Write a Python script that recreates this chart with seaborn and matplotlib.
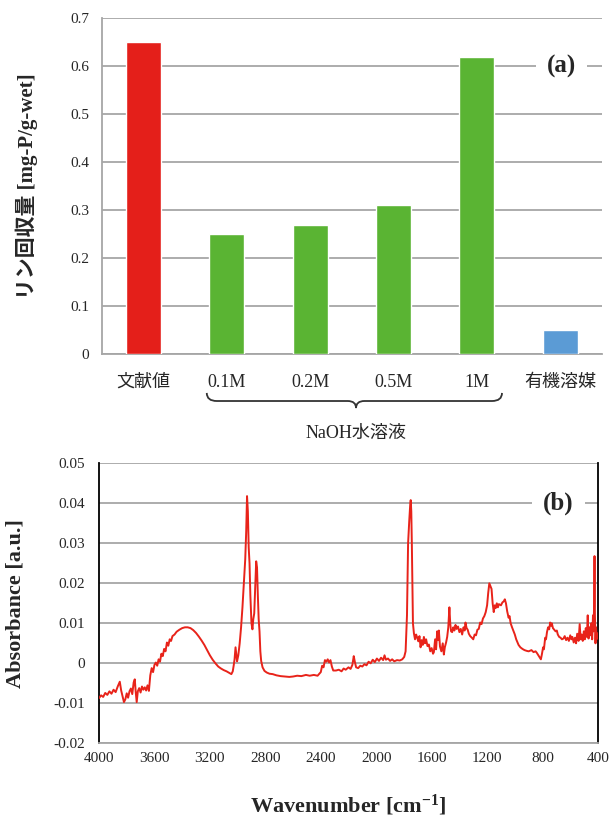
#!/usr/bin/env python3
# -*- coding: utf-8 -*-
"""
(a) リン回収量 / (b) FT-IR スペクトル
"""

#%% modulos
import matplotlib
matplotlib.use("Agg")
import matplotlib.pyplot as plt
from matplotlib.path import Path
from matplotlib.patches import PathPatch
from matplotlib.transforms import blended_transform_factory
import numpy as np
import pandas as pd
import seaborn as sb

#%% dados (a)
categorias = ["文献値", "0.1M", "0.2M", "0.5M", "1M", "有機溶媒"]
recuperacao = [0.65, 0.25, 0.27, 0.31, 0.62, 0.05]
cores = ["#E41F1A", "#5AB433", "#5AB433", "#5AB433", "#5AB433", "#5B9BD5"]
yticks_a = [0, 0.1, 0.2, 0.3, 0.4, 0.5, 0.6, 0.7]
ytlabels_a = ["0", "0.1", "0.2", "0.3", "0.4", "0.5", "0.6", "0.7"]

#%% dados (b) - lidos do espectro
wn = [4000, 3985, 3970, 3955, 3940, 3925, 3910, 3895, 3880, 3865,
      3850, 3840, 3830, 3820, 3810, 3800, 3790, 3780, 3770, 3760,
      3750, 3742, 3735, 3728, 3720, 3710, 3700, 3690, 3680, 3670,
      3660, 3650, 3640, 3630, 3620, 3610, 3600, 3590, 3580, 3570,
      3560, 3550, 3540, 3530, 3520, 3510, 3500, 3490, 3480, 3470,
      3455, 3440, 3420, 3400, 3380, 3360, 3340, 3320, 3300, 3280,
      3260, 3240, 3220, 3200, 3180, 3160, 3140, 3120, 3100, 3080,
      3060, 3045, 3035, 3028, 3022, 3015, 3010, 3004, 2995, 2985,
      2975, 2965, 2955, 2945, 2938, 2932, 2926, 2920, 2914, 2908,
      2900, 2893, 2887, 2880, 2872, 2866, 2860, 2854, 2848, 2842,
      2836, 2830, 2820, 2806, 2790, 2770, 2747, 2720, 2690, 2660,
      2627, 2600, 2570, 2540, 2507, 2480, 2450, 2423, 2400, 2390,
      2380, 2370, 2360, 2350, 2340, 2330, 2320, 2310, 2290, 2270,
      2250, 2235, 2220, 2200, 2185, 2172, 2162, 2155, 2145, 2130,
      2115, 2100, 2085, 2070, 2055, 2040, 2025, 2010, 1995, 1980,
      1965, 1950, 1940, 1930, 1915, 1900, 1885, 1870, 1850, 1830,
      1812, 1798, 1788, 1778, 1770, 1762, 1755, 1751, 1747, 1743,
      1739, 1735, 1728, 1720, 1712, 1704, 1696, 1688, 1680, 1672,
      1664, 1656, 1648, 1640, 1630, 1620, 1610, 1600, 1590, 1584,
      1575, 1568, 1560, 1552, 1548, 1540, 1530, 1520, 1512, 1505,
      1496, 1488, 1480, 1472, 1466, 1460, 1452, 1444, 1436, 1428,
      1420, 1410, 1400, 1390, 1380, 1370, 1362, 1356, 1348, 1340,
      1332, 1322, 1310, 1300, 1290, 1280, 1270, 1260, 1250, 1240,
      1230, 1220, 1210, 1200, 1192, 1184, 1176, 1168, 1160, 1152,
      1145, 1138, 1130, 1122, 1115, 1100, 1090, 1080, 1072, 1064,
      1055, 1045, 1038, 1030, 1020, 1009, 1000, 990, 980, 973,
      960, 945, 930, 913, 900, 880, 865, 850, 841, 830,
      820, 812, 805, 796, 790, 781, 775, 768, 760, 752,
      745, 738, 733, 725, 715, 706, 697, 690, 680, 670,
      660, 649, 640, 630, 620, 610, 600, 592, 585, 575,
      566, 558, 550, 540, 532, 525, 518, 510, 502, 495,
      488, 480, 474, 468, 462, 455, 448, 442, 436, 432,
      428, 425, 422, 418, 414, 410, 405, 400]
absorb = [-0.0087, -0.0080, -0.0084, -0.0074, -0.0079, -0.0070, -0.0076, -0.0066, -0.0072, -0.0058,
          -0.0046, -0.0068, -0.0082, -0.0097, -0.0090, -0.0075, -0.0086, -0.0070, -0.0063, -0.0077,
          -0.0048, -0.0040, -0.0072, -0.0097, -0.0070, -0.0062, -0.0073, -0.0058, -0.0066, -0.0060,
          -0.0068, -0.0055, -0.0069, -0.0030, -0.0012, -0.0022, -0.0004, 0.0002, -0.0006, 0.0010,
          0.0004, 0.0024, 0.0018, 0.0036, 0.0030, 0.0052, 0.0044, 0.0060, 0.0056, 0.0068,
          0.0072, 0.0079, 0.0084, 0.0088, 0.0090, 0.0090, 0.0088, 0.0083, 0.0076, 0.0067,
          0.0057, 0.0046, 0.0033, 0.0020, 0.0009, 0.0000, -0.0008, -0.0013, -0.0017, -0.0020,
          -0.0024, -0.0027, -0.0020, -0.0005, 0.0010, 0.0040, 0.0025, 0.0005, 0.0020, 0.0050,
          0.0090, 0.0140, 0.0200, 0.0260, 0.0330, 0.0418, 0.0380, 0.0290, 0.0250, 0.0170,
          0.0100, 0.0085, 0.0110, 0.0125, 0.0200, 0.0255, 0.0240, 0.0170, 0.0110, 0.0080,
          0.0030, 0.0006, -0.0010, -0.0019, -0.0023, -0.0026, -0.0027, -0.0030, -0.0032, -0.0033,
          -0.0034, -0.0033, -0.0031, -0.0032, -0.0029, -0.0031, -0.0029, -0.0031, -0.0022, -0.0006,
          -0.0010, 0.0008, 0.0004, 0.0010, 0.0002, 0.0008, -0.0008, -0.0018, -0.0018, -0.0016,
          -0.0020, -0.0013, -0.0016, -0.0010, -0.0014, -0.0004, 0.0018, 0.0005, -0.0010, -0.0012,
          -0.0006, -0.0008, -0.0002, -0.0005, 0.0004, 0.0000, 0.0009, 0.0003, 0.0012, 0.0006,
          0.0014, 0.0008, 0.0020, 0.0009, 0.0012, 0.0006, 0.0010, 0.0005, 0.0008, 0.0007,
          0.0010, 0.0016, 0.0030, 0.0120, 0.0300, 0.0354, 0.0395, 0.0408, 0.0380, 0.0300,
          0.0200, 0.0100, 0.0075, 0.0060, 0.0072, 0.0064, 0.0055, 0.0068, 0.0040, 0.0058,
          0.0046, 0.0066, 0.0050, 0.0060, 0.0043, 0.0047, 0.0030, 0.0038, 0.0024, 0.0028,
          0.0060, 0.0035, 0.0080, 0.0058, 0.0082, 0.0042, 0.0030, 0.0050, 0.0022, 0.0040,
          0.0052, 0.0066, 0.0090, 0.0140, 0.0100, 0.0080, 0.0078, 0.0090, 0.0082, 0.0096,
          0.0086, 0.0092, 0.0078, 0.0086, 0.0072, 0.0090, 0.0082, 0.0102, 0.0088, 0.0084,
          0.0074, 0.0068, 0.0064, 0.0060, 0.0072, 0.0070, 0.0084, 0.0086, 0.0102, 0.0098,
          0.0112, 0.0118, 0.0128, 0.0145, 0.0176, 0.0200, 0.0193, 0.0186, 0.0150, 0.0128,
          0.0145, 0.0138, 0.0150, 0.0140, 0.0148, 0.0145, 0.0152, 0.0155, 0.0160, 0.0150,
          0.0130, 0.0114, 0.0118, 0.0100, 0.0090, 0.0080, 0.0072, 0.0060, 0.0052, 0.0046,
          0.0040, 0.0036, 0.0033, 0.0031, 0.0030, 0.0033, 0.0028, 0.0030, 0.0026, 0.0020,
          0.0015, 0.0010, 0.0022, 0.0040, 0.0035, 0.0064, 0.0060, 0.0078, 0.0090, 0.0085,
          0.0102, 0.0094, 0.0100, 0.0088, 0.0084, 0.0080, 0.0082, 0.0072, 0.0066, 0.0064,
          0.0060, 0.0062, 0.0068, 0.0058, 0.0064, 0.0056, 0.0070, 0.0060, 0.0066, 0.0052,
          0.0064, 0.0050, 0.0074, 0.0056, 0.0098, 0.0060, 0.0072, 0.0056, 0.0080, 0.0060,
          0.0088, 0.0066, 0.0120, 0.0062, 0.0090, 0.0070, 0.0100, 0.0060, 0.0120, 0.0080,
          0.0145, 0.0268, 0.0120, 0.0050, 0.0090, 0.0060, 0.0075, 0.0070]
xticks_b = [4000, 3600, 3200, 2800, 2400, 2000, 1600, 1200, 800, 400]
yticks_b = [-0.02, -0.01, 0, 0.01, 0.02, 0.03, 0.04, 0.05]
ytlabels_b = ["-0.02", "-0.01", "0", "0.01", "0.02", "0.03", "0.04", "0.05"]

df_a = pd.DataFrame({"cat": categorias, "val": recuperacao})
df_b = pd.DataFrame({"wn": wn, "abs": absorb})

#%% estilo
sb.set_style("white")
plt.rcParams['font.family'] = ['Liberation Serif', 'Noto Sans CJK JP']
plt.rcParams['mathtext.default'] = 'regular'
grade = "#a6a6a6"

fig = plt.figure(figsize=(6.1, 8.19), dpi=100)
ax1 = fig.add_axes([0.1667, 0.5674, 0.8203, 0.4103])
ax2 = fig.add_axes([0.1623, 0.0924, 0.8180, 0.3419])

#%% (a) barras
sb.barplot(data=df_a, x="cat", y="val", hue="cat", palette=cores,
           width=0.42, legend=False, saturation=1, ax=ax1, zorder=3)
ax1.set_xlim(-0.5, 5.5)
ax1.set_ylim(0, 0.7)
ax1.set_yticks(yticks_a)
ax1.set_yticklabels(ytlabels_a, fontsize=11)
ax1.yaxis.grid(True, color=grade, lw=1.3)
ax1.set_axisbelow(True)
ax1.set_xticks(range(len(categorias)))
ax1.set_xticklabels(categorias, fontsize=13)
ax1.set_xticks(np.arange(-0.5, 6, 1.0), minor=True)
ax1.tick_params(axis='x', which='major', length=0, pad=14)
ax1.tick_params(axis='x', which='minor', length=4, direction='in', color=grade)
ax1.tick_params(axis='y', length=0, pad=9)
for s in ["top", "right"]:
    ax1.spines[s].set_visible(False)
for s in ["left", "bottom"]:
    ax1.spines[s].set_color(grade)
    ax1.spines[s].set_linewidth(1.3)
ax1.set_xlabel("")
ax1.set_ylabel("リン回収量 [mg-P/g-wet]", fontsize=15, fontweight='bold')
ax1.yaxis.set_label_coords(-0.128, 0.5)
ax1.text(0.919, 0.6, "(a)", transform=blended_transform_factory(ax1.transAxes, ax1.transData),
         fontsize=18, fontweight='bold', ha='center', va='center',
         bbox=dict(boxstyle='square,pad=0.45', fc='white', ec='none'), zorder=5)

# chave sob as concentracoes de NaOH
tr = blended_transform_factory(ax1.transData, ax1.transAxes)
x0, x1, xm = 0.76, 4.3, 2.55
yt, yh, yb = -0.115, -0.139, -0.160
verts = [(x0, yt), (x0, yh), (x0 + 0.12, yh), (xm - 0.1, yh), (xm, yh), (xm, yb),
         (xm, yh), (xm + 0.1, yh), (x1 - 0.12, yh), (x1, yh), (x1, yt)]
codes = [Path.MOVETO, Path.CURVE3, Path.CURVE3, Path.LINETO, Path.CURVE3, Path.CURVE3,
         Path.CURVE3, Path.CURVE3, Path.LINETO, Path.CURVE3, Path.CURVE3]
ax1.add_patch(PathPatch(Path(verts, codes), transform=tr, fill=False,
                        lw=1.3, ec="#333333", clip_on=False))
ax1.text(xm, -0.234, "NaOH水溶液", transform=tr, fontsize=13,
         ha='center', va='center')

#%% (b) espectro
sb.lineplot(data=df_b, x="wn", y="abs", color="#E8231A", lw=1.4,
            estimator=None, sort=False, ax=ax2, zorder=3)
ax2.set_xlim(4000, 400)
ax2.set_ylim(-0.02, 0.05)
ax2.set_xticks(xticks_b)
ax2.set_xticklabels([str(t) for t in xticks_b], fontsize=11)
ax2.set_yticks(yticks_b)
ax2.set_yticklabels(ytlabels_b, fontsize=11)
ax2.yaxis.grid(True, color=grade, lw=1.3)
ax2.set_axisbelow(True)
ax2.tick_params(axis='x', length=5, direction='in', pad=6)
ax2.tick_params(axis='y', length=5, direction='in', pad=10)
ax2.spines["top"].set_visible(False)
for s in ["left", "right", "bottom"]:
    ax2.spines[s].set_color("black")
    ax2.spines[s].set_linewidth(1.3)
ax2.spines["bottom"].set_color(grade)
ax2.set_xlabel("Wavenumber [cm$^{-1}$]", fontsize=16, fontweight='bold')
ax2.xaxis.set_label_coords(0.5, -0.175)
ax2.set_ylabel("Absorbance [a.u.]", fontsize=16, fontweight='bold')
ax2.yaxis.set_label_coords(-0.148, 0.5)
ax2.text(0.92, 0.04, "(b)", transform=blended_transform_factory(ax2.transAxes, ax2.transData),
         fontsize=18, fontweight='bold', ha='center', va='center',
         bbox=dict(boxstyle='square,pad=0.45', fc='white', ec='none'), zorder=5)

fig.savefig("out.png", dpi=100)
